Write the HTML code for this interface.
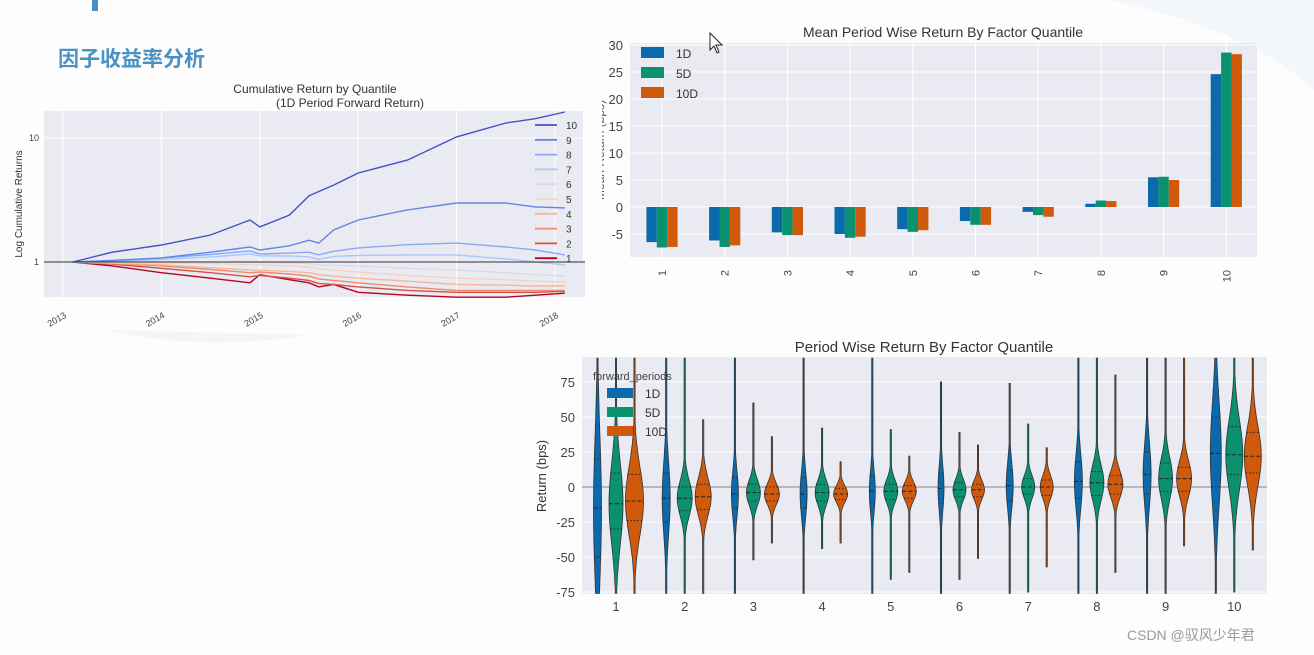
<!DOCTYPE html>
<html><head><meta charset="utf-8"><style>
html,body{margin:0;padding:0;background:#fdfdfd;width:1314px;height:655px;overflow:hidden;}
svg{display:block;font-family:"Liberation Sans","Noto Sans CJK SC",sans-serif;}
</style></head><body>
<svg id="root" width="1314" height="655" viewBox="0 0 1314 655">
  <rect x="0" y="0" width="1314" height="655" fill="#fdfdfd"/>
  <path d="M1110 0 L1314 0 L1314 90 Q1250 30 1110 0 Z" fill="#f3f6fa"/>
  <path d="M105 330 Q200 352 310 335 Z" fill="#f2f5f9"/>
  <rect x="92" y="0" width="6" height="11" fill="#4a90c2"/>
  <text x="58" y="66" font-size="21" font-weight="bold" fill="#4a92c4">因子收益率分析</text>
  <text x="1127" y="640" font-size="14" fill="#9a9a9a">CSDN @驭风少年君</text>
  <g id="cum"></g>
  <g id="bar"></g>
  <g id="vio"></g>
</svg>
<script>
// ---------- Chart 1 data ----------
const cumDates = [2013.1, 2013.5, 2014.0, 2014.5, 2014.9, 2015.0, 2015.3, 2015.5, 2015.6, 2015.75, 2016.0, 2016.5, 2017.0, 2017.5, 2017.8, 2018.1];
const q10 = [1, 1.20, 1.37, 1.65, 2.18, 1.92, 2.39, 3.41, 3.7, 4.17, 5.22, 6.64, 10.2, 13.2, 14.3, 16.2];
const q9  = [1, 1.03, 1.08, 1.2, 1.32, 1.25, 1.35, 1.50, 1.42, 1.81, 2.18, 2.63, 2.99, 2.99, 2.78, 2.73];
const q8  = [1, 1.02, 1.08, 1.15, 1.23, 1.16, 1.18, 1.2, 1.14, 1.22, 1.30, 1.38, 1.42, 1.32, 1.25, 1.14];
const q7  = [1, 1.01, 1.05, 1.1, 1.16, 1.12, 1.12, 1.10, 1.05, 1.11, 1.13, 1.14, 1.14, 1.06, 1.0, 0.95];
const q6  = [1, 1.0, 1.01, 1.0, 1.0, 0.99, 0.98, 0.97, 0.95, 0.94, 0.93, 0.89, 0.86, 0.82, 0.79, 0.77];
const q5  = [1, 0.99, 0.98, 0.97, 0.95, 0.95, 0.93, 0.91, 0.88, 0.86, 0.83, 0.78, 0.74, 0.72, 0.70, 0.69];
const q4  = [1, 0.98, 0.95, 0.9, 0.86, 0.86, 0.84, 0.82, 0.79, 0.77, 0.74, 0.70, 0.66, 0.65, 0.64, 0.64];
const q3  = [1, 0.97, 0.93, 0.87, 0.82, 0.83, 0.8, 0.77, 0.73, 0.71, 0.68, 0.63, 0.59, 0.59, 0.59, 0.59];
const q2  = [1, 0.96, 0.89, 0.82, 0.76, 0.78, 0.74, 0.71, 0.67, 0.66, 0.63, 0.59, 0.57, 0.57, 0.57, 0.58];
const q1  = [1, 0.93, 0.82, 0.74, 0.68, 0.79, 0.72, 0.68, 0.63, 0.66, 0.57, 0.54, 0.52, 0.52, 0.54, 0.56];
const cumSeries = [q1,q2,q3,q4,q5,q6,q7,q8,q9,q10];
const cumLabels = ["1","2","3","4","5","6","7","8","9","10"];
const cumYearTicks = [2013, 2014, 2015, 2016, 2017, 2018];
const cumYTicks = [1, 10];

// ---------- Chart 2 data ----------
const barCats = ["1","2","3","4","5","6","7","8","9","10"];
const bar1D  = [-6.5, -6.2, -4.7, -5.0, -4.1, -2.6, -0.9, 0.6, 5.5, 24.6];
const bar5D  = [-7.5, -7.4, -5.2, -5.7, -4.6, -3.3, -1.5, 1.2, 5.6, 28.6];
const bar10D = [-7.4, -7.1, -5.2, -5.5, -4.3, -3.3, -1.8, 1.1, 5.0, 28.3];
const barYTicks = [-5, 0, 5, 10, 15, 20, 25, 30];
const periodNames = ["1D","5D","10D"];

// ---------- Chart 3 data (per quantile, per period) ----------
const vioMedian = [[-15,-12,-10],[-8,-8,-7],[-5,-4,-5],[-5,-4,-5],[-3,-3,-3],[-1,-2,-2],[1,0,0],[4,3,2],[9,6,6],[24,23,22]];
const vioQ1     = [[-50,-30,-24],[-25,-17,-16],[-15,-10,-10],[-15,-10,-9],[-12,-9,-8],[-12,-7,-7],[-10,-5,-6],[-8,-6,-5],[-5,-3,-3],[0,9,10]];
const vioQ3     = [[20,10,9],[10,0,2],[7,2,0],[7,2,-1],[8,2,1],[10,3,2],[12,6,5],[18,11,8],[25,17,14],[50,43,39]];
const vioLow    = [[-150,-120,-100],[-150,-100,-100],[-150,-52,-40],[-150,-44,-40],[-150,-66,-61],[-150,-66,-51],[-150,-75,-57],[-150,-150,-61],[-150,-150,-42],[-150,-75,-45]];
const vioHigh   = [[150,110,100],[150,95,48],[150,60,36],[150,42,18],[150,41,22],[75,39,30],[74,45,28],[150,150,80],[150,150,150],[150,150,150]];
const vioWidth  = [[4,7,9],[4,7.5,8],[3.5,7,7.5],[3.5,7,7],[3,7,7],[3,6.5,6.5],[3.5,6.5,6.5],[4,7,7.5],[4,7,7.5],[5.5,8.5,8.5]];
const vioYTicks = [-75,-50,-25,0,25,50,75];

const NS = "http://www.w3.org/2000/svg";
function mk(parent, tag, attrs, text){
  const e = document.createElementNS(NS, tag);
  for (const k in attrs) e.setAttribute(k, attrs[k]);
  if (text !== undefined) e.textContent = text;
  parent.appendChild(e);
  return e;
}
const periodColors = ["#0a6aab","#0a9270","#d05a0c"];

// ================= Chart 1 =================
(function(){
  const g = document.getElementById('cum');
  const L=44, R=585, T=111, B=297;
  const x = d => 63 + (d-2013)*98.4;
  const y = v => 262 - Math.log10(v)*124;
  const bg = mk(g,'rect',{x:L,y:T,width:R-L,height:B-T,fill:'#eaeaf2'});
   
  cumYearTicks.forEach(yr=>{
    const l = mk(g,'line',{x1:x(yr),x2:x(yr),y1:T,y2:B,stroke:'#fff','stroke-width':1});
     
    const t = mk(g,'text',{x:x(yr)+4,y:B+20,'font-size':9,fill:'#444','text-anchor':'end',transform:`rotate(-30 ${x(yr)+4} ${B+20})`},String(yr));
     
  });
  cumYTicks.forEach(v=>{
    const l = mk(g,'line',{x1:L,x2:R,y1:y(v),y2:y(v),stroke:'#fff','stroke-width':1});
     
    const t = mk(g,'text',{x:L-5,y:y(v)+3,'font-size':9,fill:'#444','text-anchor':'end'},String(v));
     
  });
  const cols = ["#b40426","#d55042","#ef8a6c","#f6b799","#f2d3c3","#d6dce6","#a9c6fd","#86a9fb","#6385ea","#4352c4"];
  cumSeries.forEach((s,i)=>{
    const p = s.map((v,j)=>`${j?'L':'M'}${x(cumDates[j]).toFixed(1)} ${y(v).toFixed(1)}`).join(' ');
    const pe = mk(g,'path',{d:p,fill:'none',stroke:cols[i],'stroke-width':1.4});
     
  });
  const bl = mk(g,'line',{x1:L,x2:R,y1:y(1),y2:y(1),stroke:'#333','stroke-width':1});
   
  for (let i=9;i>=0;i--){
    const ly = 125 + (9-i)*14.8;
    const ll = mk(g,'line',{x1:535,x2:557,y1:ly,y2:ly,stroke:cols[i],'stroke-width':1.8});
     
    const lt = mk(g,'text',{x:566,y:ly+4,'font-size':10,fill:'#333'},cumLabels[i]);
     
  }
  const t1 = mk(g,'text',{x:315,y:93,'font-size':12,fill:'#333','text-anchor':'middle'},'Cumulative Return by Quantile');
   
  const t2 = mk(g,'text',{x:350,y:107,'font-size':12,fill:'#333','text-anchor':'middle'},'(1D Period Forward Return)');
   
  const yl = mk(g,'text',{x:22,y:204,'font-size':10,fill:'#333','text-anchor':'middle',transform:'rotate(-90 22 204)'},'Log Cumulative Returns');
   
})();

// ================= Chart 2 =================
(function(){
  const g = document.getElementById('bar');
  const L=630, R=1257, T=43, B=257;
  const x = i => 662 + i*62.7;
  const y = v => 207 - v*5.4;
  const bg = mk(g,'rect',{x:L,y:T,width:R-L,height:B-T,fill:'#eaeaf2'});
   
  barYTicks.forEach(v=>{
    const l = mk(g,'line',{x1:L,x2:R,y1:y(v),y2:y(v),stroke:'#fff','stroke-width':1});
     
    const t = mk(g,'text',{x:L-7,y:y(v)+5,'font-size':13,fill:'#444','text-anchor':'end'},String(v));
     
  });
  barCats.forEach((c,i)=>{
    const l = mk(g,'line',{x1:x(i),x2:x(i),y1:T,y2:B,stroke:'#fff','stroke-width':1});
     
    const t = mk(g,'text',{x:x(i)+4,y:B+13,'font-size':11,fill:'#444','text-anchor':'end',transform:`rotate(-90 ${x(i)+4} ${B+13})`},c);
     
  });
  const bw = 10.4;
  [bar1D,bar5D,bar10D].forEach((s,k)=>{
    s.forEach((v,i)=>{
      const bx = x(i) - 1.5*bw + k*bw;
      const r = mk(g,'rect',{x:bx,y:Math.min(y(v),y(0)),width:bw,height:Math.abs(y(v)-y(0)),fill:periodColors[k]});
       
    });
  });
  periodNames.forEach((n,k)=>{
    const r = mk(g,'rect',{x:641,y:53+k*20-6,width:23,height:11,fill:periodColors[k]});
     
    const t = mk(g,'text',{x:676,y:53+k*20+5,'font-size':12,fill:'#333'},n);
     
  });
  const tt = mk(g,'text',{x:943,y:37,'font-size':14,fill:'#333','text-anchor':'middle'},'Mean Period Wise Return By Factor Quantile');
   
  const yl = mk(g,'text',{x:604,y:150,'font-size':12,fill:'#555','text-anchor':'middle',transform:'rotate(-90 604 150)'},'Mean Return (bps)');
   
  const cv = mk(g,'rect',{x:583,y:80,width:19,height:180,fill:'#fdfdfd'});
   
  const cur = mk(g,'path',{d:'M710 33 L710 50 L714 46 L717 53 L719 52 L716 45 L722 45 Z',fill:'#fff',stroke:'#222','stroke-width':1});
   
})();

// ================= Chart 3 =================
(function(){
  const g = document.getElementById('vio');
  const L=582, R=1267, T=357, B=594;
  const x = i => 616 + i*68.7;
  const y = v => 487 - v*1.4;
  const VMIN = -76, VMAX = 92; // visible range of the axis
  const clampV = v => Math.max(VMIN, Math.min(VMAX, v));
  const bg = mk(g,'rect',{x:L,y:T,width:R-L,height:B-T,fill:'#eaeaf2'});
   
  vioYTicks.forEach(v=>{
    const l = mk(g,'line',{x1:L,x2:R,y1:y(v),y2:y(v),stroke:'#fff','stroke-width':1});
     
    const t = mk(g,'text',{x:L-7,y:y(v)+5,'font-size':13,fill:'#444','text-anchor':'end'},String(v));
     
  });
  const zl = mk(g,'line',{x1:L,x2:R,y1:y(0),y2:y(0),stroke:'#888','stroke-width':1});
   
  barCats.forEach((c,i)=>{
    for (let k=0;k<3;k++){
      const cx = x(i) + (k-1)*18.5;
      const med = vioMedian[i][k], a = vioQ1[i][k], b = vioQ3[i][k];
      const lo = clampV(vioLow[i][k]), hi = clampV(vioHigh[i][k]), w = vioWidth[i][k];
      const s = Math.max((b-a)/1.35, 3);
      const hw = v => w*Math.exp(-0.5*Math.pow((v-med)/s,2));
      const steps = 60; let left=[], right=[];
      for (let j=0;j<=steps;j++){
        const v = lo + (hi-lo)*j/steps;
        const h = Math.max(hw(v),0.6);
        right.push(`${(cx+h).toFixed(1)} ${y(v).toFixed(1)}`);
        left.unshift(`${(cx-h).toFixed(1)} ${y(v).toFixed(1)}`);
      }
      const wl = mk(g,'line',{x1:cx,x2:cx,y1:y(lo),y2:y(hi),stroke:'#333','stroke-width':1.3});
       
      const p = mk(g,'path',{d:'M'+right.join(' L')+' L'+left.join(' L')+' Z',fill:periodColors[k],stroke:'#333','stroke-width':0.8});
       
      [a,med,b].forEach((q,qi)=>{
        if (q < VMIN || q > VMAX) return;
        const h = hw(q);
        const d = mk(g,'line',{x1:cx-h,x2:cx+h,y1:y(q),y2:y(q),stroke:'#222','stroke-width':1,'stroke-dasharray':qi===1?'4 2':'1.5 2'});
         
      });
    }
    const t = mk(g,'text',{x:x(i),y:611,'font-size':13,fill:'#444','text-anchor':'middle'},c);
     
  });
  const lt = mk(g,'text',{x:593,y:380,'font-size':11,fill:'#444'},'forward_periods');
   
  periodNames.forEach((n,k)=>{
    const ly = 393 + k*19;
    const r = mk(g,'rect',{x:607,y:ly-5,width:26,height:10,fill:periodColors[k]});
     
    const t = mk(g,'text',{x:645,y:ly+5,'font-size':12,fill:'#333'},n);
     
  });
  const tt = mk(g,'text',{x:924,y:352,'font-size':15,fill:'#333','text-anchor':'middle'},'Period Wise Return By Factor Quantile');
   
  const yl = mk(g,'text',{x:546,y:476,'font-size':13,fill:'#333','text-anchor':'middle',transform:'rotate(-90 546 476)'},'Return (bps)');
   
})();
</script>
</body></html>
